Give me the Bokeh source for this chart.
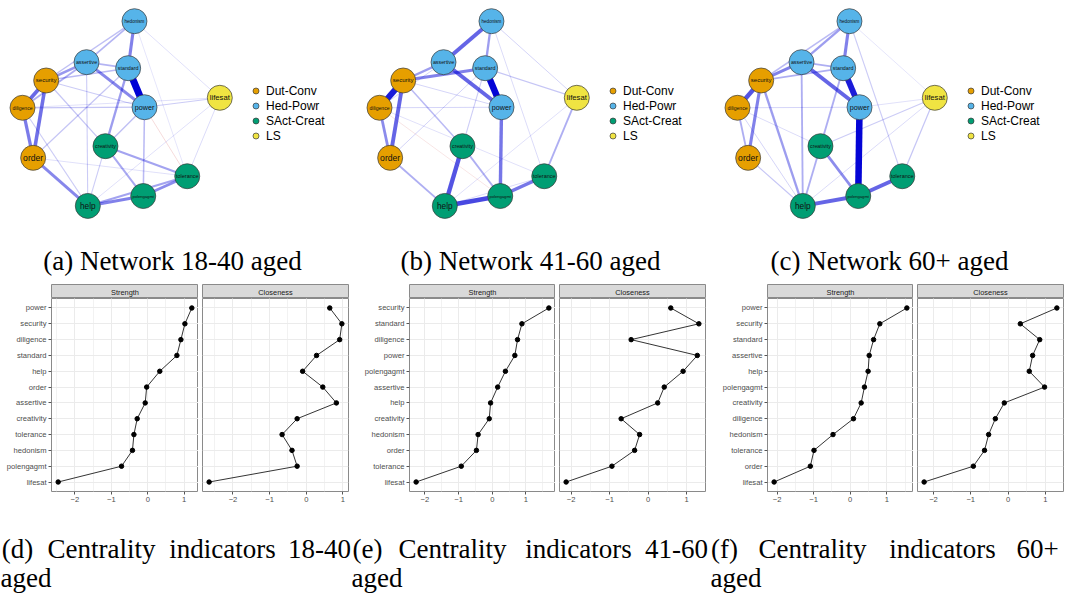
from bokeh.plotting import figure
from bokeh.models import (ColumnDataSource, Range1d, FixedTicker, SingleIntervalTicker,
                          Legend, LegendItem)
from bokeh.layouts import row, column
from bokeh.embed import file_html
from bokeh.resources import INLINE
from bokeh.core.properties import value, field

# ---------------- data ----------------
node_names = ["hedonism", "assertive", "standard", "security", "diligence", "power",
              "lifesat", "creativity", "order", "tolerance", "polengagmt", "help"]
node_groups = ["Hed-Powr", "Hed-Powr", "Hed-Powr", "Dut-Conv", "Dut-Conv", "Hed-Powr",
               "LS", "SAct-Creat", "Dut-Conv", "SAct-Creat", "SAct-Creat", "SAct-Creat"]
layout_x = [0.135, -0.351, 0.071, -0.760, -1.000, 0.237, 1.000, -0.159, -0.892, 0.670, 0.224, -0.338]
layout_y = [1.000, 0.557, 0.492, 0.359, 0.064, 0.070, 0.172, -0.351, -0.477, -0.676, -0.890, -0.997]
group_names = ["Dut-Conv", "Hed-Powr", "SAct-Creat", "LS"]

edges_1840 = [
    ("standard", "power", 0.45), ("hedonism", "standard", 0.20), ("hedonism", "assertive", 0.11),
    ("hedonism", "security", 0.09), ("hedonism", "lifesat", 0.04), ("hedonism", "tolerance", 0.03),
    ("assertive", "power", 0.19), ("assertive", "security", 0.16), ("assertive", "standard", 0.11),
    ("assertive", "diligence", 0.12), ("assertive", "help", 0.07), ("security", "diligence", 0.24),
    ("security", "order", 0.23), ("diligence", "order", 0.21), ("security", "standard", 0.10),
    ("security", "power", 0.07), ("security", "creativity", 0.08), ("diligence", "power", 0.08),
    ("diligence", "lifesat", 0.04), ("power", "lifesat", 0.07), ("order", "help", 0.19),
    ("diligence", "help", 0.07), ("order", "standard", 0.08), ("creativity", "standard", 0.15),
    ("creativity", "tolerance", 0.14), ("creativity", "polengagmt", 0.13), ("creativity", "help", 0.07),
    ("creativity", "power", 0.09), ("help", "polengagmt", 0.20), ("help", "tolerance", 0.14),
    ("polengagmt", "tolerance", 0.18), ("power", "polengagmt", 0.10), ("power", "tolerance", -0.05),
    ("lifesat", "help", 0.04), ("lifesat", "tolerance", 0.05), ("order", "tolerance", 0.04),
]
edges_4160 = [
    ("standard", "power", 0.42), ("security", "diligence", 0.38), ("hedonism", "assertive", 0.25),
    ("hedonism", "standard", 0.15), ("hedonism", "lifesat", 0.06), ("hedonism", "tolerance", 0.05),
    ("assertive", "power", 0.25), ("assertive", "security", 0.15), ("security", "standard", 0.20),
    ("security", "order", 0.25), ("diligence", "order", 0.18), ("standard", "lifesat", 0.08),
    ("power", "polengagmt", 0.22), ("creativity", "help", 0.28), ("creativity", "polengagmt", 0.12),
    ("creativity", "security", 0.10), ("creativity", "standard", 0.07), ("help", "polengagmt", 0.30),
    ("polengagmt", "tolerance", 0.22), ("lifesat", "tolerance", 0.12), ("order", "help", 0.12),
    ("order", "standard", 0.06), ("diligence", "polengagmt", -0.03), ("security", "power", 0.06),
    ("diligence", "power", 0.06), ("help", "tolerance", 0.05), ("lifesat", "help", 0.04),
    ("assertive", "diligence", 0.06), ("diligence", "tolerance", 0.04),
]
edges_60 = [
    ("power", "polengagmt", 0.42), ("standard", "power", 0.38), ("security", "diligence", 0.28),
    ("hedonism", "standard", 0.20), ("hedonism", "assertive", 0.15), ("hedonism", "security", 0.10),
    ("hedonism", "lifesat", 0.03), ("hedonism", "tolerance", 0.07), ("assertive", "power", 0.25),
    ("assertive", "security", 0.20), ("assertive", "standard", 0.12), ("security", "standard", 0.12),
    ("security", "order", 0.20), ("security", "help", 0.15), ("diligence", "order", 0.12),
    ("assertive", "help", 0.12), ("creativity", "standard", 0.12), ("creativity", "polengagmt", 0.18),
    ("creativity", "help", 0.12), ("polengagmt", "tolerance", 0.25), ("help", "polengagmt", 0.25),
    ("order", "help", 0.08), ("diligence", "help", 0.06), ("lifesat", "creativity", 0.07),
    ("lifesat", "tolerance", 0.08), ("lifesat", "help", 0.05), ("diligence", "power", 0.06),
    ("power", "lifesat", 0.04), ("diligence", "creativity", 0.05),
]

cent_1840_nodes = ["power", "security", "diligence", "standard", "help", "order", "assertive",
                   "creativity", "tolerance", "hedonism", "polengagmt", "lifesat"]
cent_1840_strength = [1.21, 1.02, 0.91, 0.80, 0.33, -0.03, -0.07, -0.29, -0.38, -0.42, -0.72, -2.46]
cent_1840_closeness = [0.64, 0.97, 0.91, 0.28, -0.10, 0.45, 0.82, -0.25, -0.66, -0.39, -0.25, -2.65]

cent_4160_nodes = ["security", "standard", "diligence", "power", "polengagmt", "assertive", "help",
                   "creativity", "hedonism", "order", "tolerance", "lifesat"]
cent_4160_strength = [1.68, 0.88, 0.75, 0.67, 0.39, 0.16, -0.05, -0.09, -0.42, -0.47, -0.92, -2.26]
cent_4160_closeness = [0.59, 1.32, -0.44, 1.28, 0.91, 0.42, 0.25, -0.70, -0.22, -0.35, -0.94, -2.13]

cent_60_nodes = ["power", "security", "standard", "assertive", "help", "polengagmt", "creativity",
                 "diligence", "hedonism", "tolerance", "order", "lifesat"]
cent_60_strength = [1.55, 0.81, 0.64, 0.52, 0.49, 0.39, 0.30, 0.09, -0.47, -0.99, -1.09, -2.08]
cent_60_closeness = [1.31, 0.33, 0.85, 0.66, 0.57, 0.98, -0.10, -0.34, -0.52, -0.63, -0.93, -2.25]

net_captions = ["(a) Network 18-40 aged", "(b) Network 41-60 aged", "(c) Network 60+ aged"]
cent_caption_words = [["(d)", "Centrality", "indicators", "18-40"],
                      ["(e)", "Centrality", "indicators", "41-60"],
                      ["(f)", "Centrality", "indicators", "60+"]]
cent_caption_line2 = ["aged", "aged", "aged"]

# ---------------- styles ----------------
group_colors = {"Dut-Conv": "#E69F00", "Hed-Powr": "#56B4E9", "SAct-Creat": "#009E73", "LS": "#F0E442"}
label_px = {"hedonism": 4.6, "assertive": 5.3, "standard": 5.3, "security": 6.0, "diligence": 5.1,
            "power": 7.2, "lifesat": 7.7, "creativity": 5.3, "order": 8.6, "tolerance": 5.5,
            "polengagmt": 4.1, "help": 8.3}
SANS_NAME = "Liberation Sans"
SANS = value(SANS_NAME)
SERIF = value("Liberation Serif")
W_MAX = 0.45
# caption layout (page pixels): word centres of line 1, left edge of line 2
cap_word_centres = [[17, 101, 222, 319], [367, 452, 578, 676], [724, 812, 942, 1037]]
cap_line2_left = [0, 351, 710]


def base_fig(**kw):
    return figure(output_backend="svg", toolbar_location=None, **kw)


def network_fig(edges, width):
    # pixel mapping: px = 120.65 + 98.65*x ; py(top) = 113.2 - 92.5*y
    sx, ox = 98.65, 120.65
    sy, oy = 92.5, 113.2
    p = base_fig(width=width, height=230,
                 x_range=Range1d(-ox / sx, (width - ox) / sx),
                 y_range=Range1d((oy - 230) / sy, oy / sy),
                 x_axis_type=None, y_axis_type=None,
                 min_border_left=0, min_border_right=0, min_border_top=0, min_border_bottom=0)
    p.outline_line_color = None
    p.grid.visible = False
    pos = {n: (x, y) for n, x, y in zip(node_names, layout_x, layout_y)}
    es = sorted(edges, key=lambda e: abs(e[2]))
    src = ColumnDataSource(dict(
        x0=[pos[a][0] for a, b, w in es], y0=[pos[a][1] for a, b, w in es],
        x1=[pos[b][0] for a, b, w in es], y1=[pos[b][1] for a, b, w in es],
        lw=[max(0.9, 7.0 * abs(w) / W_MAX) for a, b, w in es],
        la=[min(1.0, 0.05 + abs(w) / W_MAX) for a, b, w in es],
        lc=["#0000D5" if w > 0 else "#BF0000" for a, b, w in es]))
    p.segment("x0", "y0", "x1", "y1", source=src, line_width="lw", line_alpha="la", line_color="lc")
    items = []
    for g in group_names:
        idx = [i for i, gg in enumerate(node_groups) if gg == g]
        r = p.scatter([layout_x[i] for i in idx], [layout_y[i] for i in idx], size=25,
                      fill_color=group_colors[g], line_color="#3a3a3a", line_width=0.7)
        items.append(LegendItem(label=g, renderers=[r]))
    lsrc = ColumnDataSource(dict(x=layout_x, y=layout_y, t=node_names,
                                 s=["%.1fpx" % label_px[n] for n in node_names]))
    p.text("x", "y", text="t", source=lsrc, text_font=SANS, text_font_size=field("s"),
           text_align="center", text_baseline="middle", text_color="#111111")
    leg = Legend(items=items, location=(248, 87), glyph_height=15, glyph_width=15,
                 label_height=15, spacing=0, padding=0, margin=0, label_standoff=3,
                 border_line_color=None, background_fill_alpha=0,
                 label_text_font=SANS_NAME, label_text_font_size="12px", label_text_color="#000000")
    p.add_layout(leg)
    return p


def facet(names, vals, left, right, fw, with_y, strip_label):
    lo, hi = min(vals), max(vals)
    span = hi - lo
    xr = (lo - 0.05 * span, hi + 0.05 * span)
    ypos = list(range(len(names), 0, -1))
    st = base_fig(width=left + fw + right, height=16, x_range=Range1d(0, 1), y_range=Range1d(0, 1),
                  x_axis_type=None, y_axis_type=None,
                  min_border_left=left, min_border_right=right, min_border_top=2, min_border_bottom=0)
    st.background_fill_color = "#D9D9D9"
    st.border_fill_color = "white"
    st.outline_line_color = "#8a8a8a"
    st.grid.visible = False
    st.text([0.5], [0.45], text=[strip_label], text_font=SANS, text_font_size="7.4px",
            text_align="center", text_baseline="middle", text_color="#1A1A1A")

    p = base_fig(width=left + fw + right, height=193 + 15,
                 x_range=Range1d(*xr), y_range=Range1d(0.4, len(names) + 0.6),
                 y_axis_location="left" if with_y else None,
                 min_border_left=left, min_border_right=right, min_border_top=0, min_border_bottom=15)
    p.outline_line_color = "#8a8a8a"
    p.xaxis.ticker = SingleIntervalTicker(interval=1, num_minor_ticks=2)
    p.xgrid.ticker = SingleIntervalTicker(interval=1, num_minor_ticks=2)
    p.xgrid.grid_line_color = "#EBEBEB"
    p.xgrid.minor_grid_line_color = "#F2F2F2"
    p.ygrid.ticker = FixedTicker(ticks=ypos)
    p.ygrid.grid_line_color = "#EBEBEB"
    axes = [p.xaxis[0]] + ([p.yaxis[0]] if with_y else [])
    for ax in axes:
        ax.axis_line_color = None
        ax.major_tick_line_color = "#555555"
        ax.major_tick_out = 3
        ax.major_tick_in = 0
        ax.minor_tick_line_color = None
        ax.major_label_text_font = SANS_NAME
        ax.major_label_text_font_size = "7.6px"
        ax.major_label_text_color = "#4D4D4D"
        ax.major_label_standoff = 1
    if with_y:
        p.yaxis.ticker = FixedTicker(ticks=ypos)
        p.yaxis.major_label_overrides = {y: n for y, n in zip(ypos, names)}
        p.yaxis.major_label_standoff = 2
    p.line(vals, ypos, line_color="black", line_width=0.8)
    p.scatter(vals, ypos, size=4.5, fill_color="black", line_color="black")
    return column(st, p)


def centrality_group(names, strength, closeness, left, right):
    return row(facet(names, strength, left, 0, 147 if left == 51 else 146, True, "Strength"),
               facet(names, closeness, 4, right, 146, False, "Closeness"))


net_a = network_fig(edges_1840, 357)
net_b = network_fig(edges_4160, 358)
net_c = network_fig(edges_60, 356)

cap_top = base_fig(width=1071, height=52, x_range=Range1d(0, 1071), y_range=Range1d(0, 52),
                   x_axis_type=None, y_axis_type=None, min_border_left=0, min_border_right=0,
                   min_border_top=0, min_border_bottom=0)
cap_top.outline_line_color = None
cap_top.grid.visible = False
cap_top.text([172, 530, 889], [22, 22, 22], text=net_captions, text_font=SERIF,
             text_font_size="27px", text_align="center", text_baseline="middle", text_color="black")

g_d = centrality_group(cent_1840_nodes, cent_1840_strength, cent_1840_closeness, 51, 7)
g_e = centrality_group(cent_4160_nodes, cent_4160_strength, cent_4160_closeness, 54, 7)
g_f = centrality_group(cent_60_nodes, cent_60_strength, cent_60_closeness, 55, 8)

CAP_H = 89
cap_bot = base_fig(width=1071, height=CAP_H, x_range=Range1d(0, 1071), y_range=Range1d(0, CAP_H),
                   x_axis_type=None, y_axis_type=None, min_border_left=0, min_border_right=0,
                   min_border_top=0, min_border_bottom=0)
cap_bot.outline_line_color = None
cap_bot.grid.visible = False
wx, wy, wt = [], [], []
for xs, words in zip(cap_word_centres, cent_caption_words):
    wx += xs
    wy += [46.5] * len(xs)
    wt += words
cap_bot.text(wx, wy, text=wt, text_font=SERIF, text_font_size="27px", text_align="center",
             text_baseline="alphabetic", text_color="black")
cap_bot.text(cap_line2_left, [18] * 3, text=cent_caption_line2, text_font=SERIF,
             text_font_size="27px", text_align="left", text_baseline="alphabetic", text_color="black")

layout = column(row(net_a, net_b, net_c), cap_top, row(g_d, g_e, g_f), cap_bot)

with open("out.html", "w") as f:
    f.write(file_html(layout, INLINE))
